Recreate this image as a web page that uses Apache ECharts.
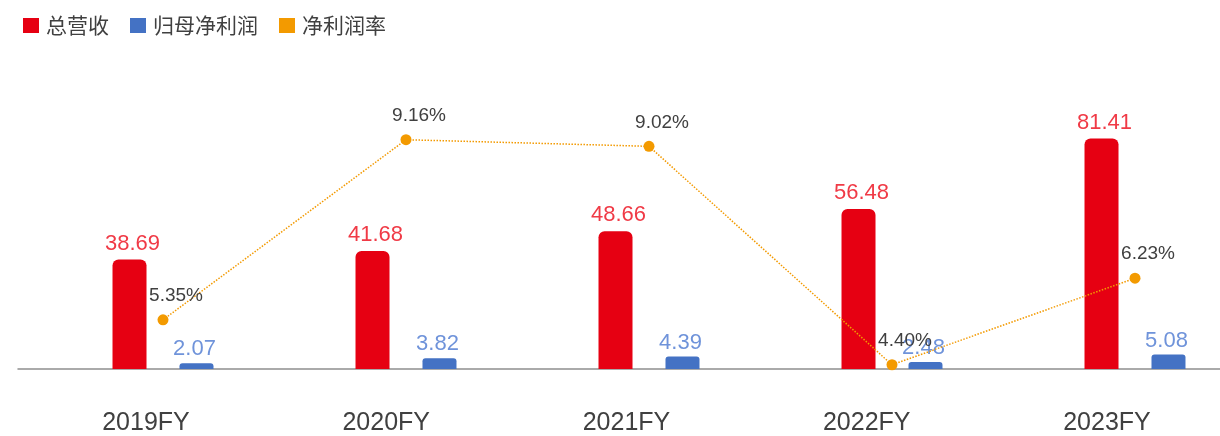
<!DOCTYPE html>
<html>
<head>
<meta charset="utf-8">
<script src="https://cdn.jsdelivr.net/npm/echarts@6/dist/echarts.min.js"></script>
<style>
  html, body { margin: 0; padding: 0; background: #fff; }
  #financeChart { width: 1220px; height: 436px; }
</style>
</head>
<body>
<div id="financeChart"></div>
<script>
  // 年度
  var years = ['2019FY', '2020FY', '2021FY', '2022FY', '2023FY']
  // 总营收（亿元）
  var revenue = [38.69, 41.68, 48.66, 56.48, 81.41]
  // 归母净利润（亿元）
  var netProfit = [2.07, 3.82, 4.39, 2.48, 5.08]
  // 净利润率（%）
  var netMargin = [5.35, 9.16, 9.02, 4.40, 6.23]

  var numFont = "'Liberation Sans', Arial, sans-serif"
  var cnFont = "'Noto Sans CJK SC', sans-serif"

  var option = {
    animation: false,
    legend: {
      left: 18,
      top: 10,
      icon: 'rect',
      itemWidth: 16,
      itemHeight: 15,
      itemGap: 21,
      textStyle: { fontSize: 21, color: '#404040', fontFamily: cnFont, padding: [0, 0, 0, 2] },
      data: ['总营收', '归母净利润', '净利润率']
    },
    grid: [
      { left: 163, right: 85, top: 100, bottom: 67 },   // 柱子和折线
      { left: 146, right: 113, top: 100, bottom: 67 },  // 年份标签
      { left: 18, right: 0, top: 100, bottom: 67 }      // 横轴线
    ],
    xAxis: [
      {
        gridIndex: 0, type: 'category', data: years, boundaryGap: false,
        axisLine: { show: false }, axisTick: { show: false }, axisLabel: { show: false }
      },
      {
        gridIndex: 1, type: 'category', data: years, boundaryGap: false,
        axisLine: { show: false }, axisTick: { show: false },
        axisLabel: { fontSize: 25, color: '#404040', fontFamily: numFont, margin: 42 }
      },
      {
        gridIndex: 2, type: 'category', data: years,
        axisLine: { show: true, lineStyle: { color: '#8f8f8f', width: 1.5 } },
        axisTick: { show: false }, axisLabel: { show: false }
      }
    ],
    yAxis: [
      { gridIndex: 0, type: 'value', min: 0, max: 95, show: false },
      { gridIndex: 0, type: 'value', min: 4.31, max: 10, show: false },
      { gridIndex: 1, type: 'value', show: false },
      { gridIndex: 2, type: 'value', show: false }
    ],
    series: [
      {
        name: '总营收',
        type: 'bar',
        xAxisIndex: 0,
        yAxisIndex: 0,
        clip: false,
        barWidth: 34,
        barGap: '97%',
        itemStyle: { color: '#E60012', borderRadius: [6, 6, 0, 0] },
        label: {
          show: true, position: 'top', distance: 5, offset: [3, 0],
          fontSize: 22, color: '#F03A46', fontFamily: numFont
        },
        data: revenue
      },
      {
        name: '归母净利润',
        type: 'bar',
        xAxisIndex: 0,
        yAxisIndex: 0,
        clip: false,
        barWidth: 34,
        itemStyle: { color: '#4472C4', borderRadius: [3, 3, 0, 0] },
        label: {
          show: true, position: 'top', distance: 3, offset: [-2, 0],
          fontSize: 22, color: '#6F93DA', fontFamily: numFont
        },
        data: netProfit
      },
      {
        name: '净利润率',
        type: 'line',
        xAxisIndex: 0,
        yAxisIndex: 1,
        clip: false,
        symbol: 'circle',
        symbolSize: 11,
        itemStyle: { color: '#F39A00' },
        lineStyle: { color: '#F39A00', width: 1.5, type: 'dotted' },
        label: {
          show: true, position: 'top', offset: [13, -4],
          fontSize: 19, color: '#404040', fontFamily: numFont,
          formatter: function (p) { return p.value.toFixed(2) + '%' }
        },
        z: 5,
        data: netMargin
      }
    ]
  }

  var chart = echarts.init(document.getElementById('financeChart'))
  chart.setOption(option)
</script>
</body>
</html>
